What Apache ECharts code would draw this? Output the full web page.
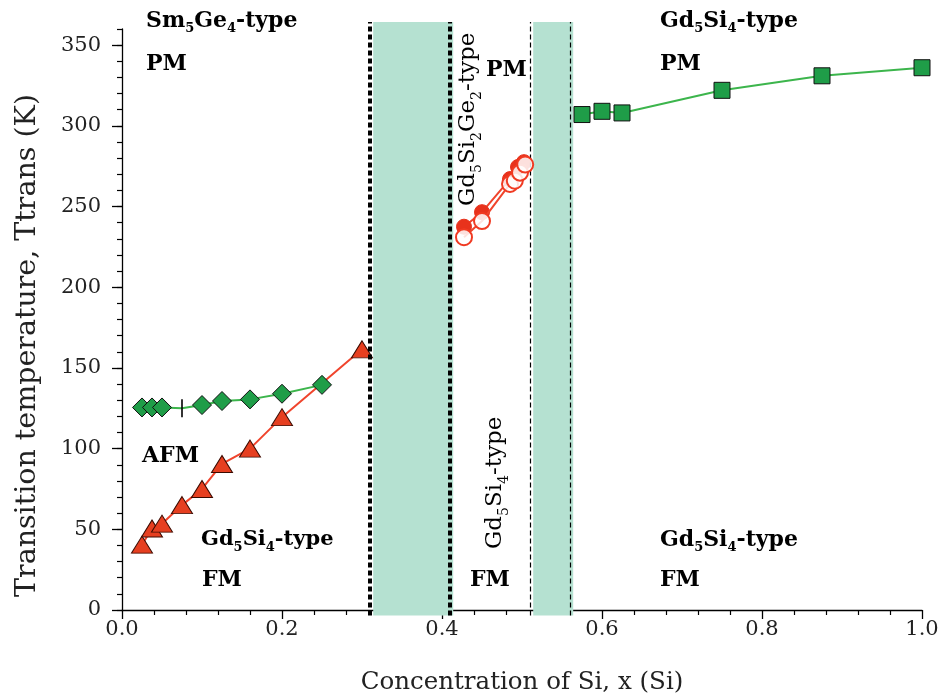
<!DOCTYPE html>
<html><head><meta charset="utf-8">
<script src="https://cdn.jsdelivr.net/npm/echarts@6/dist/echarts.min.js"></script>
<style>html,body{margin:0;padding:0;background:#fff}#c{width:943px;height:700px}</style>
</head><body><div id="c"></div>
<script>
// ---- data ----
const afmX = [0.025, 0.0375, 0.05, 0.075, 0.1, 0.125, 0.16, 0.2, 0.25];
const afmT = [125.5, 125.5, 125.5, 125, 127, 129.5, 130.5, 134, 139.5];
const fmLowX = [0.025, 0.0375, 0.05, 0.075, 0.1, 0.125, 0.16, 0.2, 0.3];
const fmLowT = [40.5, 50.5, 53.5, 65, 75, 90.5, 100, 119.5, 161.5];
const midFilledX = [0.4275, 0.45, 0.485, 0.495, 0.5025];
const midFilledT = [237.5, 246.5, 267, 274.5, 277.5];
const midOpenX = [0.4275, 0.45, 0.485, 0.491, 0.4975, 0.504];
const midOpenT = [231, 241, 264, 266, 271, 276];
const pmX = [0.575, 0.6, 0.625, 0.75, 0.875, 1.0];
const pmT = [307, 309, 308, 322, 331, 336];
const thickBand = [0.314, 0.414];
const thinBand = [0.514, 0.564];
const yMajorTicks = [0, 50, 100, 150, 200, 250, 300, 350];
const xLabelName = 'Concentration of Si, x (Si)';
const yLabelName = 'Transition temperature, Ttrans (K)';

const zip = (xs, ys) => xs.map((x, i) => [x, ys[i]]);
const FONT = '"DejaVu Serif", serif';

function rich(str) {
  let out = '';
  const re = /_(\d)/g;
  let last = 0, m;
  while ((m = re.exec(str))) {
    if (m.index > last) out += '{m|' + str.slice(last, m.index) + '}';
    out += '{s|' + m[1] + '}';
    last = m.index + m[0].length;
  }
  if (last < str.length) out += '{m|' + str.slice(last) + '}';
  return out;
}
function textEl(str, x, y, opts) {
  opts = opts || {};
  const fs = opts.fs || 22;
  const weight = opts.weight || 'bold';
  return {
    type: 'text', x: x, y: y, rotation: opts.rot || 0, z: 100,
    style: {
      text: rich(str),
      align: 'left', verticalAlign: opts.va || 'top',
      rich: {
        m: {fontFamily: FONT, fontSize: fs, fontWeight: weight, color: '#111', lineHeight: fs + 4, verticalAlign: 'top'},
        s: {fontFamily: FONT, fontSize: Math.round(fs * 0.6), fontWeight: weight, color: '#111', lineHeight: Math.round(fs*0.6)+2, verticalAlign: 'top', padding: [Math.round(fs*0.55), 0, 0, 0]}
      }
    }
  };
}

const chart = echarts.init(document.getElementById('c'), null, {renderer: 'canvas'});
const axisLabelStyle = {fontFamily: FONT, fontSize: 21, color: '#222'};

const option = {
  animation: false,
  backgroundColor: '#fff',
  grid: [
    {left: 122, right: 21, top: 29, bottom: 86},
    {left: 122, right: 21, top: 22, bottom: 84.4}
  ],
  xAxis: [
    {
      gridIndex: 0, type: 'value', min: 0, max: 1, interval: 0.2,
      name: xLabelName, nameLocation: 'middle', nameGap: 60,
      nameTextStyle: {fontFamily: FONT, fontSize: 24.5, color: '#222'},
      axisLine: {lineStyle: {color: '#000', width: 1.3}},
      axisTick: {show: true, inside: false, length: 9, lineStyle: {color: '#000', width: 1.3}},
      minorTick: {show: true, splitNumber: 5, length: 5, lineStyle: {color: '#000', width: 1.2}},
      axisLabel: {...axisLabelStyle, margin: 9, formatter: v => v.toFixed(1)},
      splitLine: {show: false}
    },
    {gridIndex: 1, type: 'value', min: 0, max: 1, show: false}
  ],
  yAxis: [
    {
      gridIndex: 0, type: 'value', min: 0, max: 360, interval: 10, position: 'left',
      name: yLabelName, nameLocation: 'middle', nameGap: 80,
      nameTextStyle: {fontFamily: FONT, fontSize: 28.5, color: '#222', padding: [0, 52, 0, 0]},
      axisLine: {show: true, lineStyle: {color: '#000', width: 1.3}},
      axisTick: {show: true, inside: false, length: 5, lineStyle: {color: '#000', width: 1.2}},
      axisLabel: {...axisLabelStyle, margin: 21, customValues: yMajorTicks},
      splitLine: {show: false}
    },
    {
      gridIndex: 0, type: 'value', min: 0, max: 360, interval: 10, position: 'left', offset: 0,
      axisLine: {show: false, onZero: false},
      axisTick: {show: true, inside: false, length: 10, customValues: yMajorTicks, lineStyle: {color: '#000', width: 1.3}},
      axisLabel: {show: false},
      splitLine: {show: false}
    },
    {gridIndex: 1, type: 'value', min: -1, max: 364, show: false}
  ],
  series: [
    {
      type: 'line', xAxisIndex: 1, yAxisIndex: 2, data: [], silent: true,
      markArea: {silent: true, itemStyle: {color: '#b5e1d1'},
        data: [[{xAxis: thickBand[0]}, {xAxis: thickBand[1]}], [{xAxis: thinBand[0]}, {xAxis: thinBand[1]}]]},
      markLine: {silent: true, symbol: 'none', label: {show: false},
        lineStyle: {color: '#000', width: 4, type: [5, 3]},
        data: [{xAxis: thickBand[0]}, {xAxis: thickBand[1]}]}
    },
    {
      type: 'line', xAxisIndex: 1, yAxisIndex: 2, data: [], silent: true,
      markLine: {silent: true, symbol: 'none', label: {show: false},
        lineStyle: {color: '#000', width: 1.2, type: [5, 3]},
        data: [{xAxis: thinBand[0]}, {xAxis: thinBand[1]}]}
    },
    {
      name: 'AFM', type: 'line', xAxisIndex: 0, yAxisIndex: 0,
      data: zip(afmX, afmT).map((d, i) => i === 3 ? {value: d, symbol: 'rect', symbolSize: [1.6, 18], itemStyle: {color: '#000', borderWidth: 0}} : d),
      symbol: 'diamond', symbolSize: 19,
      itemStyle: {color: '#1f9d48', borderColor: '#111', borderWidth: 1},
      lineStyle: {color: '#3cb54c', width: 2}, z: 5
    },
    {
      name: 'FM low', type: 'line', xAxisIndex: 0, yAxisIndex: 0,
      data: zip(fmLowX, fmLowT),
      symbol: 'triangle', symbolSize: [21, 17],
      itemStyle: {color: '#e63f20', borderColor: '#3a0a00', borderWidth: 1},
      lineStyle: {color: '#f0442c', width: 2}, z: 4
    },
    {
      name: 'mid filled', type: 'line', xAxisIndex: 0, yAxisIndex: 0,
      data: zip(midFilledX, midFilledT),
      symbol: 'circle', symbolSize: 15,
      itemStyle: {color: '#e8321c', borderColor: '#e8321c', borderWidth: 1},
      lineStyle: {color: '#f0442c', width: 2}, z: 4
    },
    {
      name: 'mid open', type: 'line', xAxisIndex: 0, yAxisIndex: 0,
      data: zip(midOpenX, midOpenT),
      symbol: 'circle', symbolSize: 16,
      itemStyle: {color: 'rgba(255,255,255,0.85)', borderColor: '#f03a22', borderWidth: 2},
      lineStyle: {color: '#f0442c', width: 2}, z: 5
    },
    {
      name: 'PM', type: 'line', xAxisIndex: 0, yAxisIndex: 0,
      data: zip(pmX, pmT),
      symbol: 'rect', symbolSize: 16,
      itemStyle: {color: '#1f9d48', borderColor: '#111', borderWidth: 1},
      lineStyle: {color: '#3cb54c', width: 2}, z: 5
    }
  ],
  graphic: [
    textEl('Sm_5Ge_4-type', 146, 10),
    textEl('PM', 146, 53),
    textEl('AFM', 142, 445),
    textEl('Gd_5Si_4-type', 201, 529, {fs: 21}),
    textEl('FM', 202, 569),
    textEl('Gd_5Si_2Ge_2-type', 457, 206, {rot: Math.PI / 2, weight: 'normal', fs: 23}),
    textEl('PM', 486, 59),
    textEl('Gd_5Si_4-type', 484, 549, {rot: Math.PI / 2, weight: 'normal', fs: 23}),
    textEl('FM', 470, 569),
    textEl('Gd_5Si_4-type', 660, 10),
    textEl('PM', 660, 53),
    textEl('Gd_5Si_4-type', 660, 529),
    textEl('FM', 660, 569)
  ]
};
chart.setOption(option);
</script>
</body></html>
